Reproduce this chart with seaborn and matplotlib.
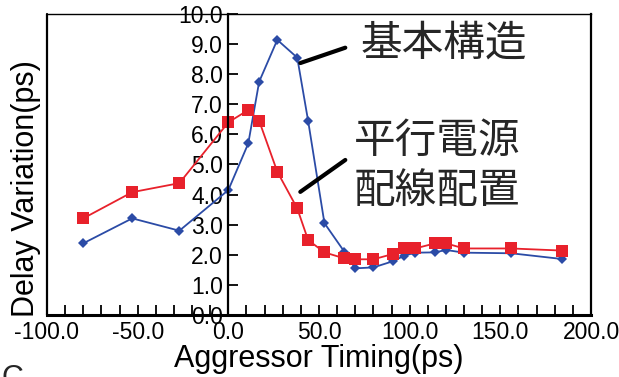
import matplotlib.pyplot as plt
import numpy as np
import pandas as pd
import seaborn as sns
from matplotlib.ticker import MultipleLocator, FormatStrFormatter

# aggressor timing (ps) and delay variation (ps)
timing = [-80, -53, -27, 0, 11, 17, 27, 38, 44, 53, 64, 70, 80, 91, 97, 103, 114, 120, 130, 156, 184]
basic = [2.38, 3.21, 2.80, 4.15, 5.70, 7.75, 9.14, 8.55, 6.45, 3.05, 2.10, 1.55, 1.58, 1.79, 1.97,
         2.07, 2.08, 2.16, 2.07, 2.05, 1.86]
parallel = [3.21, 4.08, 4.38, 6.40, 6.81, 6.45, 4.76, 3.54, 2.49, 2.08, 1.88, 1.85, 1.85, 2.03, 2.21,
            2.21, 2.38, 2.38, 2.21, 2.21, 2.14]
series_names = ['基本構造', '平行電源\n配線配置']

sns.set_style('ticks', {'xtick.direction': 'in', 'ytick.direction': 'in'})
plt.rcParams['font.family'] = ['Liberation Sans', 'Noto Sans CJK JP', 'DejaVu Sans']
plt.rcParams.update({'xtick.major.size': 7, 'xtick.minor.size': 7, 'ytick.major.size': 7,
                     'xtick.major.width': 1.3, 'xtick.minor.width': 1.3, 'ytick.major.width': 1.3,
                     'xtick.labelsize': 16.5, 'ytick.labelsize': 16.5,
                     'xtick.color': 'black', 'ytick.color': 'black',
                     'xtick.major.pad': 4, 'ytick.major.pad': 4,
                     'xtick.bottom': True, 'xtick.top': False, 'ytick.left': True, 'ytick.right': False})

df = pd.DataFrame({'timing': timing * 2,
                   'delay': basic + parallel,
                   'kind': [series_names[0]] * len(timing) + [series_names[1]] * len(timing)})

fig = plt.figure(figsize=(6.19, 3.77), dpi=100)
ax = fig.add_axes([0.0759, 0.1645, 0.8789, 0.7984])
# y axis drawn through x = 0, box border kept at x = -100
ax.spines['left'].set_position(('data', 0))

sns.lineplot(data=df, x='timing', y='delay', hue='kind', style='kind',
             palette=['#2b4ba6', '#e8212b'], markers=['D', 's'], dashes=False,
             markeredgewidth=0, lw=1.3, legend=False, ax=ax, sort=False)
for line, ms in zip(ax.lines, [5.5, 8]):
    line.set_markersize(ms)

ax.set_xlim(-100, 200)
ax.set_ylim(0, 10)
ax.xaxis.set_major_locator(MultipleLocator(50))
ax.xaxis.set_minor_locator(MultipleLocator(10))
ax.yaxis.set_major_locator(MultipleLocator(1))
ax.xaxis.set_major_formatter(FormatStrFormatter('%.1f'))
ax.yaxis.set_major_formatter(FormatStrFormatter('%.1f'))

ax.spines['left'].set_linewidth(1.6)
ax.spines['bottom'].set_linewidth(2.2)
ax.spines['top'].set_linewidth(1.0)
ax.spines['right'].set_linewidth(1.6)
for s in ax.spines.values():
    s.set_color('black')
ax.axvline(-100, color='black', lw=1.6, clip_on=False)

ax.set_xlabel('Aggressor Timing(ps)', fontsize=22, labelpad=0, color='black')
ax.set_ylabel('Delay Variation(ps)', fontsize=22, color='black')
ax.yaxis.set_label_coords(26 / 619, 0.5, transform=fig.transFigure)
ax.yaxis.label.set_verticalalignment('center')

# annotations with leader lines
ax.plot([39.7, 64.5], [8.37, 8.88], color='black', lw=3)
ax.plot([39.7, 64.5], [4.09, 5.15], color='black', lw=3)
ax.text(73, 9.0, series_names[0], fontsize=30, va='center', ha='left', family='Noto Sans CJK JP')
for i, part in enumerate(series_names[1].split('\n')):
    ax.text(69, 5.78 - 1.69 * i, part, fontsize=30, va='center', ha='left', family='Noto Sans CJK JP')

fig.text(0.003, -0.045, 'C', fontsize=22, va='bottom', ha='left')

fig.savefig('out.png', dpi=100)
